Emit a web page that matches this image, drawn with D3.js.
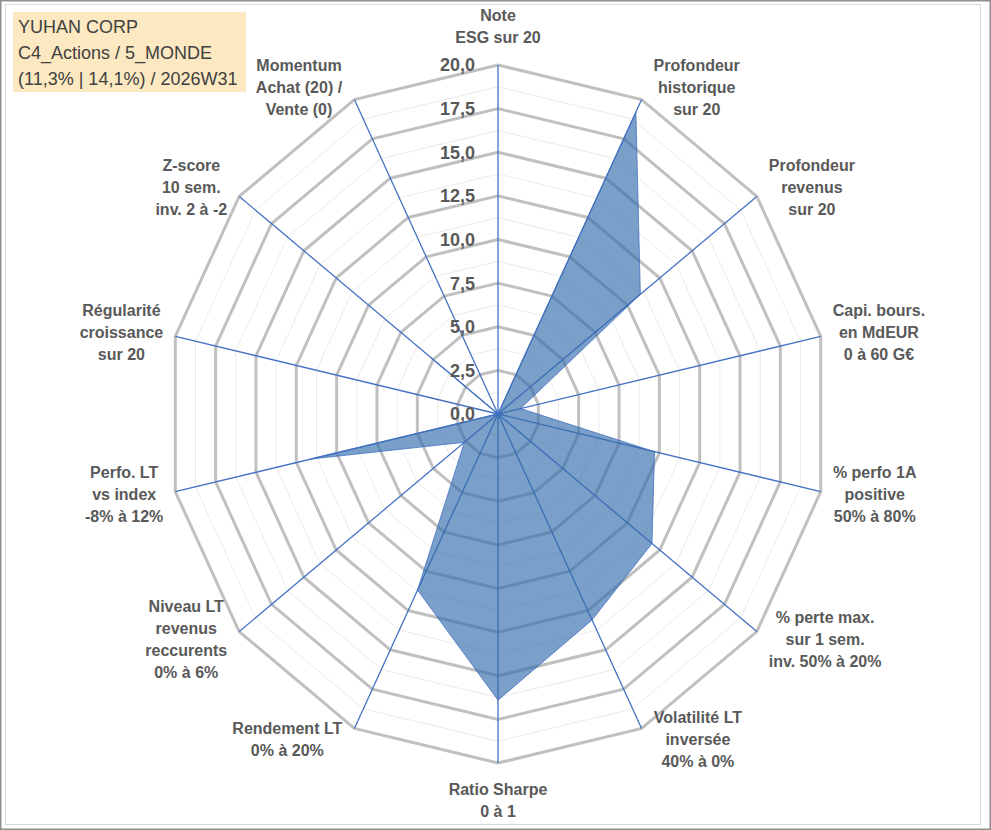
<!DOCTYPE html>
<html>
<head>
<meta charset="utf-8">
<script src="https://cdn.jsdelivr.net/npm/d3@7"></script>
<style>
  body { margin: 0; background: #fff; }
  svg { display: block; }
</style>
</head>
<body>
<svg id="chart"></svg>
<script>
// axes of the radar, clockwise from the top
const categories = [
  ["Note", "ESG sur 20"],
  ["Profondeur", "historique", "sur 20"],
  ["Profondeur", "revenus", "sur 20"],
  ["Capi. bours.", "en MdEUR", "0 à 60 G€"],
  ["% perfo 1A", "positive", "50% à 80%"],
  ["% perte max.", "sur 1 sem.", "inv. 50% à 20%"],
  ["Volatilité LT", "inversée", "40% à 0%"],
  ["Ratio Sharpe", "0 à 1"],
  ["Rendement LT", "0% à 20%"],
  ["Niveau LT", "revenus", "reccurents", "0% à 6%"],
  ["Perfo. LT", "vs index", "-8% à 12%"],
  ["Régularité", "croissance", "sur 20"],
  ["Z-score", "10 sem.", "inv. 2 à -2"],
  ["Momentum", "Achat (20) /", "Vente (0)"]
];
const scores = [0, 19.2, 11.0, 1.4, 9.7, 11.9, 13.1, 16.4, 11.2, 2.6, 11.6, 0, 5.2, 0];
const tickValues = [0, 2.5, 5, 7.5, 10, 12.5, 15, 17.5, 20];
const titleLines = ["YUHAN CORP", "C4_Actions / 5_MONDE", "(11,3% | 14,1%) / 2026W31"];

const width = 991, height = 830;
const cx = 498, cy = 414;
const n = categories.length;

const svg = d3.select("#chart").attr("width", width).attr("height", height);

// frame
svg.append("rect").attr("x", 0.75).attr("y", 0.75).attr("width", 989.5).attr("height", 828.5)
   .attr("fill", "#fff").attr("stroke", "#8f8f8f").attr("stroke-width", 1.5);
svg.append("rect").attr("x", 5.5).attr("y", 4.5).attr("width", 975).attr("height", 820)
   .attr("fill", "none").attr("stroke", "#d9d9d9");

// the picture is slightly narrower than tall
const rX = d3.scaleLinear().domain([0, 20]).range([0, 331]);
const rY = d3.scaleLinear().domain([0, 20]).range([0, 349]);
const angle = d3.scaleLinear().domain([0, n]).range([0, 2 * Math.PI]);

const px = (i, v) => cx + rX(v) * Math.sin(angle(i));
const py = (i, v) => cy - rY(v) * Math.cos(angle(i));

const ringLine = d3.line();
const ring = v => ringLine(d3.range(n + 1).map(i => [px(i % n, v), py(i % n, v)]));

const g = svg.append("g");

// minor rings
g.selectAll(".minor")
  .data(tickValues.slice(1).map(t => t - 1.25))
  .enter().append("path")
  .attr("d", ring)
  .attr("fill", "none").attr("stroke", "#ebebeb").attr("stroke-width", 1);

// major rings
g.selectAll(".major")
  .data(tickValues.slice(1))
  .enter().append("path")
  .attr("d", ring)
  .attr("fill", "none").attr("stroke", "#c0c0c0").attr("stroke-width", 3);

// spokes
g.selectAll(".spoke")
  .data(categories)
  .enter().append("line")
  .attr("x1", cx).attr("y1", cy)
  .attr("x2", (d, i) => px(i, 20))
  .attr("y2", (d, i) => py(i, 20))
  .attr("stroke", "#4472c4").attr("stroke-width", 1.3);

// series
svg.append("path")
  .attr("d", ringLine(scores.map((v, i) => [px(i, v), py(i, v)])) + "Z")
  .attr("fill", "#336cab").attr("fill-opacity", 0.65)
  .attr("stroke", "#4472c4").attr("stroke-width", 1).attr("stroke-opacity", 0.8)
  .attr("stroke-linejoin", "round");

// tick labels along the top axis
const fr = d3.formatLocale({decimal: ",", thousands: " ", grouping: [3], currency: ["", "€"]}).format(".1f");
svg.selectAll(".tick")
  .data(tickValues)
  .enter().append("text")
  .attr("x", cx - 23)
  .attr("y", d => py(0, d))
  .attr("dy", "0.36em")
  .attr("text-anchor", "end")
  .attr("font-family", "'Liberation Sans', Arial, sans-serif")
  .attr("font-weight", "bold").attr("font-size", "18px").attr("fill", "#595959")
  .text(fr);

// category labels
const lineH = 22;
categories.forEach((lines, i) => {
  const a = angle(i), s = Math.sin(a), c = Math.cos(a);
  const ex = px(i, 20), ey = py(i, 20);
  const t = svg.append("text")
    .attr("font-family", "'Liberation Sans', Arial, sans-serif")
    .attr("font-weight", "bold").attr("font-size", "16px").attr("fill", "#595959")
    .attr("text-anchor", "middle");
  const spans = t.selectAll("tspan").data(lines).enter().append("tspan")
    .attr("x", 0).attr("y", (d, k) => k * lineH)
    .text(d => d);
  const w = t.node().getBBox().width;
  const h = lines.length * lineH;
  let x, y0;
  if (Math.abs(s) < 0.05) {
    x = ex;
    y0 = c > 0 ? ey - 22 - (lines.length - 1) * lineH : ey + 32;
  } else {
    x = ex + Math.sign(s) * (w / 2 + 12);
    y0 = ey - c * 13 - h / 2 + 16;
  }
  spans.attr("x", x).attr("y", (d, k) => y0 + k * lineH);
});

// title box
svg.append("rect").attr("x", 13).attr("y", 12).attr("width", 233).attr("height", 80)
   .attr("fill", "#fde9c1");
svg.append("text")
  .attr("font-family", "'Liberation Sans', Arial, sans-serif")
  .attr("font-size", "18px").attr("fill", "#404040")
  .selectAll("tspan").data(titleLines).enter().append("tspan")
  .attr("x", 18).attr("y", (d, k) => 33 + k * 26)
  .text(d => d);
</script>
</body>
</html>
